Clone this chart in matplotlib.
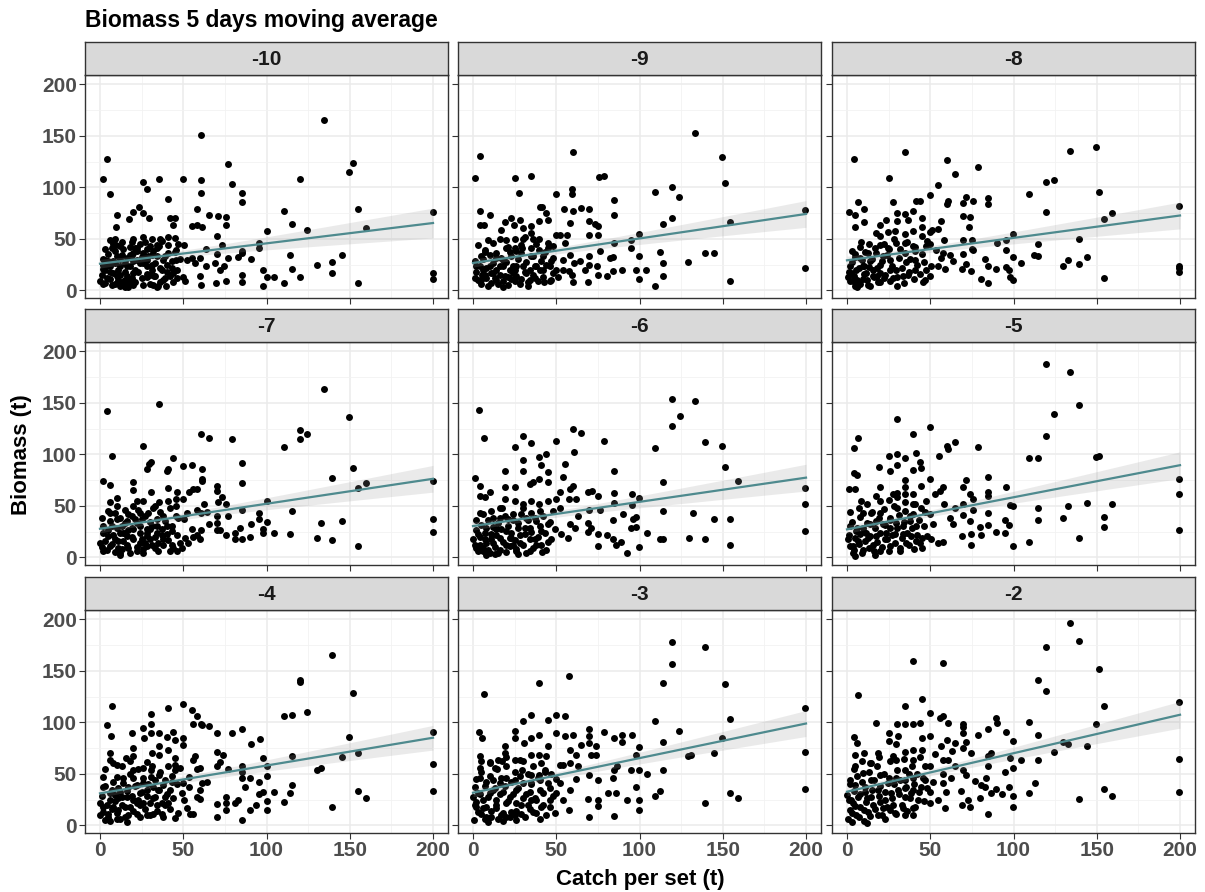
import numpy as np
import matplotlib
matplotlib.use("Agg")
import matplotlib.pyplot as plt
from matplotlib.ticker import MultipleLocator

plt.rcParams['font.family'] = ['Liberation Sans', 'DejaVu Sans']

# facet labels (days before set)
facets = ["-10", "-9", "-8", "-7", "-6", "-5", "-4", "-3", "-2"]

# (catch per set, biomass)
pts_m10 = [(134.4,165),(60.4,150.8),(4.4,127.6),(1.8,108.5),(5.8,93.3),(35.2,108.5),(50,108.5),(25.6,105.3),
    (28.2,98.8),(40.6,88.8),(60.4,106.6),(60.4,94.3),(77,123),(79,103.4),(85.2,94.3),(85.2,85.3),(120,108.5),
    (152.2,124),(149.8,115.3),(154.8,78.8),(159.8,60),(200,75.6),(200,17),(200,11.3),(110.4,76.6),(115.2,64.6),
    (124.6,58.1),(100,57.8),(95.4,45.5),(95.4,41),(90.6,30),(114,34.6),(115.2,20.3),(120,12.6),(110.4,6.8),
    (104.8,12.6),(100,12.6),(98,19.4),(98,3.9),(130.2,24.5),(139.6,27.8),(139.6,16.8),(145.2,34.6),(154.8,6.8),
    (85.2,38.4),(85.2,36.2),(82.8,32.3),(77,31.3),(85.2,14.9),(85.2,8.1),(75.6,9),(69.4,6.8),(75.6,63.3),
    (75.6,71),(73.4,43.6),(70,52.3),(70,35.5),(71,71.7),(65.6,73.3),(58.4,78.8),(55.2,62),(58,63.3),(61.4,61),
    (63.4,40),(50.4,44.3),(69.2,26.5),(72,19.4),(74.4,23.3),(63.6,23.3),(60,13.6),(60.4,4.8),(51.2,9.4),
    (49.6,12.6),(57,26.5),(55,31.3),(60,31.3),(52,29.7),(44,63.3),(42,70),(45.2,70),(40.6,51.7),(45.2,50.7),
    (36,49.7),(35.6,42.6),(41,36.2),(45.6,38.8),(45.6,29.7),(40,24.9),(43,21.6),(37,20),(42,13.6),(36,8.1),
    (39.6,4.5),(32.4,13.6),(31,20),(28,29.7),(26,36.2),(30,42.6),(31,49.7),(26,51.7),(20,49.7),(21,41),
    (23.6,80.7),(20,75.6),(25.6,75),(29.6,70),(17.4,69.1),(10.4,73.3),(9.8,61),(6,48.4),(9,49.7),(7,41),
    (3,29.7),(1.8,20.7),(0,9.4),(3,7.1),(6,11),(9,6.1),(12,3.9),(15,2.9),(17,7.1),(20,5.5),(6,23.3),(9,26.5),
    (12,23.3),(15,26.5),(18,23.3),(21,20),(10,32.9),(13,34.6),(16,31.3),(19,34.6),(22,29.7),(8,16.8),(12,15.2),
    (16,13.6),(20,16.8),(11,10.3),(14.4,8.7),(18,10.3),(25.6,5.5),(28,12.6),(32,5.5),(34,3.2),(28,23.3),
    (24,26.5),(33,26.5),(34,32.9),(38,29.7),(2,24.9),(5,28.1),(9.6,44.3),(19,46.5),(22,41),(34,41),(31,34.6),
    (44,16.8),(39,12),(46,11.6),
    (1,15),(2,30),(3,20),(4,12),(5,35),(6,18),(7,5),(8,28),(9,38),(10,14),(11,20),(12,30),(13,8),(14,40),
    (15,18),(16,24),(17,3),(18,34),(19,12),(20,28),(21,8),(22,38),(23,18),(24,45),(25,12),(26,26),(27,47),
    (28,16),(29,33),(30,6),(31,25),(32,38),(33,14),(34,44),(36,22),(37,48),(38,10),(39,33),(40,18),(41,44),
    (43,28),(44,8),(45,37),(46,20),(47,45),(48,30),(3,40),(8,45),(13,47),(18,42),(5,25),(10,7),(15,10),
    (20,36),(25,32),(30,15),(35,4),(2,6),(12,43),(28,40)]

pts_m9 = [(133.6,153.1),(4,130.8),(60,134),(149.4,129.8),(1,108.8),(25,108.8),(34.6,111.1),(75.4,109.8),
    (78.4,111.1),(151.4,104.3),(27.8,94.6),(49.6,93.3),(59.6,98.2),(59.6,93.7),(109.6,95.3),(119.4,100.1),
    (124,90.1),(84.4,87.5),(84.4,73.3),(199.6,77.8),(154.2,65.9),(119.4,70.1),(114.4,64.6),(99.6,54.9),
    (94.6,49.1),(94.6,41),(84.6,45.9),(76.4,38.4),(99.6,33.6),(112.4,37.1),(114.4,26.2),(129.4,27.1),
    (139.2,36.2),(144.6,36.2),(199.6,21.3),(154.2,9.4),(109.6,4.5),(114.4,13.6),(104,20),(97.6,19.4),
    (99.6,11.3),(89.2,20),(84,19.1),(80.4,13.6),(75,14.9),(84,32.3),(82,31.3),(68.8,8.1),(60,8.1),(59.6,14.9),
    (57.6,18.4),(69.6,32.9),(69.6,24.9),(74.6,23.3),(69.4,53.6),(75,53.6),(69.4,66.9),(73,64.3),(75,62),
    (64.6,79.8),(69.4,78.8),(60,76.9),(54.6,78.8),(58,65.2),(56.6,53.9),(55,45.9),(49.6,53.9),(52,53.9),
    (45,45.9),(40,80.7),(41.6,80.7),(43.6,74.9),(45,68.5),(39.6,66.9),(34.6,62),(34.6,55.6),(30,60.4),
    (28,67.8),(24.8,63.6),(23,70.1),(19.4,65.9),(16.6,58.1),(10,73.3),(4.4,76.6),(4,63.6),(6.4,63.6),(9,49.1),
    (7,39.4),(5,32.9),(20,49.1),(25,49.7),(30,49.7),(36,49.7),(39.6,49.7),(20,41),(25,41),(29.6,41),(35,41),
    (45,41),(39.6,39.4),(14,31.3),(18,29.7),(23,32.9),(29,36.2),(36,32.9),(42,32.9),(48,31.3),(54,29.7),
    (58,34.6),(60.4,26.5),(64,28.1),(2,23.3),(6,20),(10,23.3),(14,20),(18,23.3),(22,20),(26,23.3),(30,23.3),
    (34,20),(38,23.3),(42,20),(46,23.3),(50,20),(1,12),(4,8.7),(8,12),(11,7.1),(14,10.3),(18,8.7),(21,12.9),
    (25,8.7),(29,11),(33,7.8),(37,12),(42.6,7.8),(47,9.7),(51,12.9),(5.6,15.2),(12,16.8),(16,15.2),(24,16.8),
    (32,16.8),(48,16.8),(54,20),(67,20),
    (1,28),(2,18),(3,10),(4,24),(5,6),(6,30),(7,15),(8,22),(9,4),(10,34),(11,17),(12,26),(13,12),(14,36),
    (15,6),(16,24),(17,31),(19,14),(20,27),(21,5),(22,37),(23,11),(24,24),(26,14),(27,30),(28,6),(29,44),
    (31,18),(32,27),(33,4),(35,33),(36,15),(37,24),(38,45),(39,9),(41,28),(42,13),(43,37),(44,25),(46,9),
    (47,28),(48,43),(3,44),(7,37),(12,46),(16,50),(21,42),(26,38),(31,52),(6,12),(18,3),(25,20),(34,10),(40,20)]

pts_m8 = [(149.6,139.5),(134,135.3),(34.6,134.4),(4,127.9),(60,126.6),(78.6,119.8),(64.8,113),(25.2,108.9),
    (119.4,105.3),(124.4,106.6),(54.6,102.1),(151.6,95.3),(109.2,93.3),(49.6,92.1),(71.6,90.1),(75.6,86.6),
    (84.6,89.1),(84.6,84),(69.6,84.6),(60.6,86.6),(60,83.3),(41.2,86.9),(44,86.9),(27.6,85.6),(6.6,85.6),
    (10,79.1),(1.2,75.6),(4.6,73.3),(4.6,61),(10,65.9),(199.6,81.4),(159.2,74.6),(154.4,68.8),(119.4,75.9),
    (99.6,54.9),(95.2,49.1),(90,45.9),(114.8,44.6),(139.2,50.1),(144.2,32.6),(139.2,25.8),(132.8,29.1),
    (129.6,23.6),(112.6,34.6),(114.8,33.6),(104.4,26.8),(99.6,32.3),(95.2,38.8),(154.4,11.6),(199.6,23.9),
    (199.6,21.3),(199.6,17.8),(99.6,9.7),(97.6,12.9),(95.6,22.3),(97.2,19.4),(89.6,20.7),(84.6,23.3),
    (84.6,7.1),(82.6,30.4),(80.6,11.3),(74.6,18.4),(71.6,25.8),(69.2,20.7),(69.6,35.5),(74.8,40),(75.6,38.8),
    (69.6,49.1),(74.8,49.1),(73.2,61),(69.6,71.7),(73.6,70.7),(58,49.1),(56.6,66.9),(54.6,59.4),(51.2,58.1),
    (49.6,56.2),(49.6,45.2),(45,70.1),(45,61),(45,52.3),(39.6,76.6),(39.6,57.2),(39.6,42.6),(34.8,74.3),
    (36.6,67.8),(30,74.9),(30,66.9),(24.6,56.2),(29,57.2),(34.6,45.9),(29.6,45.9),(19.6,63.6),(23.2,68.5),
    (17.2,55.6),(8.6,47.2),(19.6,52.6),(19.6,44.3),(24.6,41),(34.6,36.2),(40.6,37.8),(47.6,42.6),(53.6,38.8),
    (57.6,36.2),(56.6,31.3),(61.6,34.6),(63.6,28.1),(58.6,20.7),(54.6,23.3),(50.6,23.9),(47.6,20),(49.6,13.6),
    (45.6,7.8),(40.6,20),(36.6,15.2),(33.6,13.6),(30,4.5),(27.6,12),(29.6,19.4),(35.6,27.1),(40.6,29.7),
    (25.6,29.7),(21.6,32.9),(17.6,36.2),(12.6,36.2),(4.6,35.5),(7.6,31.3),(13.6,28.1),(19.6,24.9),(1.6,23.3),
    (5.6,20),(9.6,23.3),(15.6,20),(19.6,16.8),(0.6,12.9),(3.6,8.7),(6.6,5.5),(9.6,11),(12.6,5.5),(15.6,13.6),
    (18.6,7.8),(22,11.6),(4.6,3.9),(2.6,16.8),(11.6,16.8),(25.6,20),
    (1,18),(2,9),(3,27),(4,14),(5,32),(6,10),(7,22),(8,6),(9,29),(10,16),(11,37),(12,10),(13,23),(14,4),
    (15,30),(16,13),(17,41),(18,22),(20,8),(21,28),(22,45),(23,15),(24,34),(26,9),(27,24),(28,50),(30,13),
    (31,31),(32,40),(33,22),(34,7),(36,47),(37,18),(38,30),(40,11),(41,42),(42,25),(44,16),(45,35),(46,27),
    (47,10),(48,48),(3,38),(8,42),(13,45),(6,3),(10,24),(18,14),(25,40),(35,55)]

pts_m7 = [(134.4,163.1),(4.4,141.9),(35.2,148.8),(149.8,136.4),(60.4,119.4),(65.4,116.2),(79,115.2),(120,124),
    (120,115.2),(124.6,119.4),(110.4,107.3),(25.6,108.3),(7,98.2),(30.4,92.7),(29.4,91),(44,96.2),(28.2,86.1),
    (41,86.1),(40,84.2),(50,88.4),(55,89.7),(61,85.8),(85.2,91.4),(85.2,72.4),(152.2,87.1),(200,73.7),
    (200,36.9),(200,24.5),(159.8,71.8),(154.8,67.2),(139.6,77),(145.2,35.6),(133,33.3),(130.2,18.9),
    (139.6,16.6),(154.8,11.1),(115.2,45),(114,22.2),(104.8,23.2),(100,54.8),(100,34.6),(98,27.1),(98,23.8),
    (95.4,43.4),(95.4,36.9),(90.6,32),(90,19.9),(85.2,45.7),(85.2,17.9),(84,28.7),(81,23.8),(81,17.9),
    (75.6,21.2),(77,40.1),(75.6,51.5),(73,58.1),(71,53.2),(70,69.5),(70,64.6),(70,40.1),(70,33),(70,26.1),
    (72,26.1),(65.4,32),(60.4,26.1),(60,17.3),(58,21.9),(56,19.6),(53,14),(51,18.6),(60.4,43.4),(62.4,51.5),
    (64,44.4),(58.4,46),(61,76),(61,74.4),(56,66.2),(58.4,66.2),(53.2,63.6),(50,56.4),(50.4,36.9),(46,63),
    (45.6,56.4),(45.6,49.9),(45.6,40.1),(46,5.9),(42,5.9),(41,66.9),(41,54.8),(35.6,53.8),(30.6,63),(33,49.9),
    (25.6,54.8),(20,73.4),(19.6,65.6),(20,49.9),(10.4,57.4),(6,53.2),(6,70.5),(1.6,73.7),(6,43.4),(9,43.4),
    (2,23.8),(0,14),(2,5.9),(5,20.6),(6,10.8),(9,17.3),(11,9.1),(12,4.2),(14,15.7),(15,23.8),(17,9.1),
    (19,19.9),(22,5.9),(24,14),(26,4.2),(28,10.8),(30,17.3),(33,9.1),(35,14),(38,17.3),(40,22.2),(43,12.4),
    (7,30.3),(10,36.9),(13,30.3),(16,35.2),(19,40.1),(22,33.6),(25,36.9),(28,27.1),(31,30.3),(34,23.8),
    (37,27.1),(40,30.3),(43,25.4),(24,43.4),(29,43.4),(34,36.9),(38,40.1),(12,23.8),(16,20.6),(20,27.1),
    (24,23.8),(28,20.6),(49,9.1),(55,27.1),(52,43.4),
    (1,10),(2,30),(3,16),(4,7),(5,26),(6,35),(7,13),(8,22),(9,5),(10,28),(11,16),(12,38),(13,8),(14,24),
    (15,33),(16,12),(17,42),(18,4),(19,28),(20,18),(21,37),(22,10),(23,46),(24,30),(25,18),(26,8),(27,40),
    (28,24),(30,34),(31,12),(32,48),(33,20),(34,30),(35,6),(36,44),(37,22),(38,12),(39,35),(41,17),(42,48),
    (43,30),(44,9),(46,22),(47,38),(48,14),(1,38),(5,45),(10,50),(15,46),(22,55),(17,26),(27,14),(30,27),(12,2)]

pts_m6 = [(119.4,154),(133.6,152),(124.2,137.4),(119.4,127.2),(3.6,142.9),(6.4,116.2),(29.8,117.5),
    (34.6,110.9),(25,107),(49.6,112.9),(60,125),(64.6,120.7),(78.4,112.9),(60.4,101.8),(109.6,106.4),
    (139.2,111.9),(149.4,108.3),(151.4,87.4),(159,73.7),(199.6,66.9),(199.6,52.2),(199.6,25.4),(154.2,36.9),
    (144.6,36.9),(132.4,43.4),(154.2,12.4),(139.2,17.9),(129.6,18.9),(114.4,17.9),(112.4,17.3),(104.4,23.2),
    (99.6,10.1),(92.6,4.2),(89,14.7),(86,11.7),(84,17.3),(80.4,21.5),(75,22.2),(75,11.4),(114.4,72.8),
    (114.4,44.7),(99.6,57.4),(95.4,61.3),(95.4,50.6),(97.6,39.5),(96,36.9),(95,28.7),(97.6,29.4),(90,42.4),
    (84,36.2),(84.6,62.6),(84.6,52.5),(84.6,84.2),(76,45.7),(75,59.7),(71.6,64.6),(69,63),(69.4,45.7),
    (63,40.1),(60,69.5),(58,66.2),(57.6,56.4),(62,56.4),(55,90.7),(54,78.3),(52,63),(52.4,48.3),(50,56.4),
    (45,82.5),(45,72.8),(43.6,100.5),(39.6,97.2),(41,89.1),(39.6,76),(36,72.8),(34,71.1),(29.8,94),
    (29.8,84.2),(25,67.9),(19,84.2),(19.4,67.9),(17.6,47.6),(4.4,69.5),(1,77),(4,59.7),(7,58.1),(10,63),
    (4.4,43.4),(19.4,56.4),(25,54.8),(30,51.5),(35,54.8),(39.6,51.5),(45,54.8),(40,45),(35,43.4),(30,48.3),
    (24,41.8),(12,38.5),(16,38.5),(21,36.9),(32,38.5),(38,35.2),(45,32),(49,27.1),(53,22.2),(57,18.9),
    (61,28.7),(58,32),(69,33.6),(69,24.8),(71,28.7),(0,17.3),(3,22.2),(4,12.4),(7,17.3),(9,7.5),(12,14),
    (15,4.2),(16,18.9),(20,12.4),(23,18.9),(26,5.9),(28,14),(31,22.2),(34,5.9),(37,17.3),(41.4,5.2),(45,15),
    (41,25.4),(34,28.7),(27,28.7),(20,25.4),(14,27.1),(8,28.7),(2,9.1),(6,5.9),(11,22.2),(24,12.4),(38,12.4),
    (1,12),(2,26),(3,6),(4,20),(5,31),(6,9),(7,24),(8,14),(9,36),(10,4),(11,18),(12,29),(13,10),(14,22),
    (15,33),(16,7),(17,27),(18,15),(19,40),(20,5),(21,30),(22,11),(23,24),(24,36),(25,17),(26,8),(27,33),
    (28,22),(29,42),(30,12),(31,28),(32,4),(33,36),(34,18),(35,25),(36,9),(37,38),(39,20),(40,30),(41,12),
    (42,40),(43,24),(44,7),(46,34),(47,18),(48,45),(2,36),(6,42),(11,45),(16,48),(8,2),(13,3),(22,19),(27,3)]

pts_m5 = [(119.4,187.6),(134,179.8),(139.2,147.5),(124.4,138.7),(119.4,117.5),(30,134.1),(49.8,126.3),
    (39.6,119.4),(6.6,116.2),(4,106.4),(64.8,111.9),(60,108.3),(60.6,104.7),(78.6,107.3),(55.2,98.2),
    (41.6,101.5),(34.8,95.9),(30,100.5),(25,98.2),(30,89.1),(25.6,83.8),(19,88.1),(44.6,86.5),(43.6,92.3),
    (39.6,85.2),(109.2,96.2),(114.8,96.2),(149.6,97.2),(151.6,98.2),(199.6,75.7),(199.6,61.3),(199.6,26.4),
    (159.2,51.5),(154.4,39.2),(154.4,29.4),(144.2,52.5),(132.8,49.3),(129.6,38.2),(139.2,18.9),(114.8,48.3),
    (114.8,35.9),(109.2,14.7),(99.6,11.1),(99.6,49.6),(97.6,50.6),(95.6,68.2),(95,35.9),(97.2,31.3),(95,23.5),
    (89.6,24.5),(84.6,77.7),(84.6,63.6),(84.6,59.7),(84.6,43.4),(84.6,31.3),(80,29.4),(80.6,21.5),(74.6,22.2),
    (74.6,12.4),(75.6,45.7),(73.6,61.3),(75.6,56.4),(73.6,35.2),(71.6,75),(69.6,68.5),(69.6,52.2),(69.6,41.1),
    (69.2,20.6),(64.8,48.3),(63.6,32),(61.6,38.5),(58,51.5),(57.6,67.9),(55.6,64.6),(52.6,61.3),(49.6,76),
    (49.6,41.8),(47.6,54.8),(51.6,32),(57.6,15),(54.6,14),(50.6,17.3),(45.2,9.1),(45.2,18.9),(44.6,69.5),
    (44.6,48.3),(39.6,61.3),(39.6,51.5),(39.6,41.8),(34.8,67.9),(34.8,61.3),(34.8,53.2),(34.8,75),(30,58.1),
    (30,48.3),(27.6,61.3),(19.6,67.9),(17.6,59.7),(19.6,54.8),(25.6,38.5),(19.6,43.4),(14.6,43.4),(9.6,43.4),
    (8.6,54.8),(1.2,65.9),(4.6,65.9),(4.2,81.6),(6,80.3),(1.6,30.3),(5.6,25.4),(9.6,28.7),(13.6,32),
    (17.6,35.2),(21.6,32),(25.6,28.7),(29.6,33.6),(33.6,30.3),(37.6,35.2),(41.6,30.3),(0.6,17.3),(3.6,10.8),
    (3.6,4.2),(6.6,15.7),(9.6,7.5),(12.6,18.9),(15.6,12.4),(19.6,5.9),(22.6,17.3),(25.6,10.8),(28.6,22.2),
    (31.6,9.1),(35.6,14),(38.6,20.6),(41.6,15.7),(33.6,22.2),(17.6,20.6),(7.6,22.2),(11.6,23.8),(23.6,23.8),
    (1,22),(2,11),(3,34),(4,7),(5,19),(6,28),(7,13),(8,39),(9,4),(10,25),(11,16),(12,33),(13,9),(14,21),
    (15,44),(16,6),(17,28),(18,15),(19,38),(20,24),(21,10),(22,47),(23,31),(24,18),(25,6),(26,36),(27,22),
    (28,50),(29,14),(30,28),(31,41),(32,6),(33,19),(34,34),(35,45),(36,24),(37,12),(38,40),(39,28),(40,8),
    (41,52),(42,22),(43,36),(44,14),(46,30),(47,44),(48,21),(2,44),(7,48),(12,52),(5,1),(17,2),(25,56),(30,62)]

pts_m4 = [(139.6,165.4),(120,141),(120,138.7),(152.2,128.2),(124.6,110.3),(115.2,107),(110.4,106),(7,116.2),
    (40.6,113.9),(50,117.5),(55,111.6),(58.4,106),(55.6,98.2),(60.4,98.2),(61.4,97.2),(65.4,96.2),(30.4,108.3),
    (30.4,98.2),(4.4,97.2),(6.6,87.1),(25.6,94),(19.4,89.4),(26.4,84.5),(30.4,89.4),(35.2,89.4),(44,90.7),
    (45.2,83.2),(40,85.8),(50,84.8),(50,78.3),(70,89.4),(79,89.4),(85.2,93.6),(90.6,79.3),(96,83.5),
    (149.8,85.8),(200,90.4),(200,59.1),(200,33.3),(154.8,70.1),(145.2,65.9),(130.2,53.8),(133,55.8),
    (139.6,17.6),(154.8,33.3),(159.8,26.8),(115.2,66.9),(115.2,38.8),(114,31),(110.4,22.2),(104.8,32),
    (100,57.7),(100,48),(100,23.5),(100,14.4),(98,64.9),(98,32),(95.4,30.3),(95.4,42.4),(93.4,19.2),(90,45.7),
    (90,14.7),(87,37.5),(85.2,57.1),(85.2,52.2),(85.2,45.7),(85.2,5.5),(82.6,24.5),(81,21.2),(77,54.5),
    (75.6,27.7),(75.6,21.2),(75.6,15.3),(74,68.2),(72,61),(70,70.8),(70,57.1),(70,20.2),(70,8.2),(64,42.4),
    (61.4,40.8),(60,55.5),(58,54.5),(57,66.9),(56,63.6),(60,34.3),(60,25.1),(58,27.7),(55.6,11.4),(54,11.4),
    (52,16.3),(50.4,24.5),(50,40.8),(53.6,37.5),(53.6,46.7),(49,31),(45.2,65.3),(45.2,58.7),(45.2,53.8),
    (45.2,7.5),(43,42.4),(42,34.3),(41,73.4),(41,21.2),(38,39.2),(35.6,76.7),(35.6,68.5),(35.6,48.9),
    (35.6,34.3),(33,27.7),(31,70.1),(30.4,47.3),(30.4,53.8),(28,61),(26,55.5),(26,40.8),(26,21.2),(20,75),
    (20,66.9),(20,53.8),(20,45.7),(15.6,65.3),(10.4,58.7),(10.4,47.3),(6,70.1),(6,63.6),(1.6,47.3),(2,37.5),
    (0,21.2),(0,9.8),(2,17.3),(3,5.5),(5,11.4),(6,24.5),(8,17.9),(10,6.5),(11,26.1),(13,19.6),(15,8.2),
    (16,27.7),(18,17.9),(20,24.5),(22,11.4),(24,30.9),(28,9.8),(30,21.2),(32,11.4),(34,19.6),(37,11.4),
    (39,19.6),(7,34.3),(12,32.6),(17,37.5),(22,39.2),(28,34.3),(32,37.5),(39,27.7),(14,40.8),(9,29.4),
    (23,24.5),(11,14.7),
    (1,28),(2,13),(3,38),(4,20),(5,8),(6,31),(7,16),(8,42),(9,24),(10,12),(11,36),(12,6),(13,27),(14,46),
    (15,18),(16,33),(17,10),(18,50),(19,28),(20,14),(21,38),(22,22),(23,55),(24,8),(25,32),(26,46),(27,16),
    (28,28),(29,40),(30,10),(31,58),(32,26),(33,44),(34,14),(35,34),(36,52),(37,22),(38,8),(39,44),(40,30),
    (41,58),(42,16),(43,48),(44,26),(46,40),(47,12),(48,56),(3,55),(8,60),(13,58),(18,62),(6,4),(16,3),(24,20)]

pts_m3 = [(119.4,177.8),(139.4,172.9),(119.4,156.3),(114.4,138.3),(151.4,137.4),(57.6,145.2),(39.4,138.3),
    (6.4,127.2),(199.6,113.9),(154.2,102.8),(109.6,101.5),(124,91.4),(114.4,81.2),(149.6,84.8),(144.6,70.1),
    (131.2,67.9),(129.4,66.9),(199.6,71.5),(199.6,34.9),(154.2,31.3),(159,26.8),(139.4,21.2),(114.4,53.5),
    (112.4,33.3),(109.6,28.7),(104.4,50.2),(99.6,75.7),(99.6,53.5),(99.6,24.5),(99.6,14.7),(97.6,68.5),
    (97.6,36.9),(94.6,53.5),(95.4,87.4),(92.4,24.5),(89.6,88.1),(89.6,81.2),(86.4,57.1),(84.4,53.8),
    (84.4,84.8),(84.4,8.8),(84,45.7),(86,31),(81,31),(78.4,90.7),(75,44),(75,24.5),(75,18.6),(74,68.5),
    (73.6,76.7),(71,68.5),(69.4,93.6),(69.4,86.5),(69.4,79.9),(69.4,48.9),(69.4,8.2),(69,25.1),(65,78.3),
    (63,57.1),(62,68.5),(62,44.7),(60,88.1),(58,73.4),(58,60.4),(57.6,14.7),(55,106),(55,87.1),(54,58.7),
    (49.6,107),(49.6,89.7),(52,58.7),(50,44.7),(49,12.1),(45,101.8),(45,76.7),(44,66.9),(43,53.8),(39.6,87.4),
    (39.6,68.5),(39.6,48.9),(40,6.5),(34.6,106.7),(34.6,84.8),(34.6,68.5),(34.6,48.9),(29.8,101.1),
    (30.4,79.9),(28,63.6),(29.6,53.8),(25,91.4),(25.4,84.8),(25,63.6),(19,76.7),(19,70.1),(17.6,62),
    (14.4,54.5),(10,61),(4.4,66.9),(3.6,90.4),(5.6,84.8),(4.4,55.5),(4,45.7),(8,42.4),(12,44),(16,40.8),
    (20,45.7),(25,44),(30,40.8),(35,40.8),(40,44),(45,40.8),(52,40.8),(1,37.5),(0,27.7),(3,31.6),(6,24.5),
    (10,31),(14,24.5),(18,32.6),(22,27.7),(26,34.3),(30,26.1),(34,32.6),(38,24.5),(42,31),(46,24.5),(50,31),
    (54,24.5),(58,34.3),(0.4,5.5),(2,17.9),(5,11.4),(8,17.9),(11,8.2),(14,16.3),(17,9.8),(20,21.2),(23,13),
    (26,21.2),(29,11.4),(33,19.6),(36,13),(41,17.3),(46,17.9),(2,22.8),(13,35.9),(35,24.5),(20,8.2),(25,9.8),
    (7,6.5),
    (1,20),(2,45),(3,13),(4,30),(5,52),(6,17),(7,38),(8,8),(9,27),(10,48),(11,14),(12,34),(13,56),(14,20),
    (15,6),(16,30),(17,46),(18,12),(19,38),(20,58),(21,24),(22,8),(23,42),(24,30),(25,52),(26,14),(27,36),
    (28,48),(29,20),(30,62),(31,8),(32,30),(33,50),(34,16),(35,40),(36,58),(37,26),(38,12),(39,46),(40,34),
    (41,60),(42,20),(43,52),(44,10),(46,36),(47,50),(48,28),(5,62),(10,60),(15,63),(20,66),(9,3),(18,4),(26,5)]

pts_m2 = [(134,196.7),(139.2,178.8),(119.4,173.2),(151.6,151.7),(39.6,159.5),(57.8,157.6),(114.8,140.9),
    (119.4,130.8),(45,122.7),(6.6,126.3),(34.8,116.2),(154.4,116.2),(199.6,119.4),(149.6,98.2),(109.2,100.2),
    (89.6,103.8),(90,99.5),(95.6,90.4),(84.6,93.6),(78.6,87.4),(114.8,87.4),(99.6,81.6),(130,80.6),(132.8,79),
    (144.2,76.7),(124.4,71.5),(114.8,63.3),(104.6,63.6),(97.6,65.3),(99.6,55.5),(94.8,52.2),(84.6,66.9),
    (84.6,57.1),(86.6,70.1),(83.6,45.7),(80.6,39.2),(82.6,37.5),(86.6,31),(84.6,10.8),(80,26.4),(89.6,35.2),
    (92.8,30),(97.2,36.9),(99.6,28.7),(99.6,17.6),(109.2,31.3),(112.8,41.4),(154.4,35.6),(159.2,28.7),
    (139.2,25.8),(199.6,64.6),(199.6,32.3),(69.6,98.2),(69.6,95.6),(69.6,89.1),(69.6,75),(71.6,80.6),
    (74.6,70.1),(69.6,53.8),(71.6,48.9),(76.6,43.4),(68.6,33.6),(69.2,19.6),(72.6,24.5),(73.6,17.3),
    (64.8,79.9),(62.8,71.8),(64.8,57.1),(60.8,99.5),(60,82.5),(57.6,106),(55.6,104.4),(56.6,77.3),(57.6,63.6),
    (60.8,63.6),(57.6,49.9),(62.6,45.7),(57.6,40.8),(54.6,24.5),(58.6,16.3),(59.6,32.6),(49.8,109.3),
    (49.8,86.5),(52.6,69.5),(49.6,57.1),(51.6,42.4),(49.6,32.6),(49.6,21.2),(43.6,99.5),(45,84.8),(45.2,73.4),
    (46.6,57.1),(45.6,45.7),(44.6,37.5),(39.6,98.2),(34.8,98.2),(30,98.2),(30.6,86.5),(29.2,79.3),(25.2,89.7),
    (25,81.6),(17.6,99.5),(39.6,73.4),(39.6,63.6),(34.8,70.8),(34.8,53.8),(29.2,63.6),(27.6,66.9),(18.6,70.1),
    (14.6,60.4),(10,70.1),(4.6,68.5),(4,85.5),(6,79.9),(4.6,57.1),(1.6,44),(4.6,39.2),(9.6,50.6),(14.6,44),
    (19.6,48.9),(24.6,40.8),(29.6,45.7),(34.6,44),(39.6,45.7),(35.6,37.5),(39.6,34.3),(0,29.4),(2.6,24.5),
    (6.6,27.7),(10.6,32.6),(14.6,27.7),(18.6,34.3),(22.6,24.5),(26.6,31),(30.6,34.3),(34.6,27.7),(38.6,31),
    (42.6,24.5),(0.4,6.5),(1.6,15.3),(5.6,9.8),(7.6,17.9),(10.2,4.2),(12.6,13),(15.6,19.6),(18.6,9.8),
    (21.6,16.3),(25.6,14.7),(29.6,11.4),(33.6,16.3),(35,9.8),(39.6,10.4),(39.6,16.3),(3.6,21.2),(11.6,22.8),
    (19.6,22.8),(27.6,19.6),
    (1,25),(2,40),(3,12),(4,33),(5,19),(6,48),(7,8),(8,30),(9,42),(10,15),(11,37),(12,26),(13,52),(14,9),
    (15,34),(16,44),(17,16),(18,58),(19,28),(20,38),(21,10),(22,50),(23,32),(24,18),(25,46),(26,62),(27,26),
    (28,40),(29,12),(30,54),(31,30),(32,44),(33,20),(34,64),(35,36),(36,14),(37,50),(38,26),(39,58),(40,40),
    (41,18),(42,50),(43,32),(44,66),(46,24),(47,44),(48,36),(4,55),(9,62),(14,60),(19,66),(3,3),(12,2),(23,6)]

panel_points = [pts_m10, pts_m9, pts_m8, pts_m7, pts_m6, pts_m5, pts_m4, pts_m3, pts_m2]

# linear fit: biomass at catch = 0 and at catch = 200
fit_at_0 = [25.8, 26.5, 29.1, 27.7, 30.3, 27.1, 31.0, 31.6, 32.6]
fit_at_200 = [65.3, 74.1, 72.6, 76.2, 77.3, 89.4, 85.0, 98.8, 107.3]
# half width of the 95% band at catch = 200
band_at_200 = [14.5, 13.0, 13.0, 13.0, 13.0, 13.0, 12.0, 12.6, 13.0]

W, H = 1205, 892
fig = plt.figure(figsize=(W / 100, H / 100), dpi=100)

col_x = [85, 458, 832]
row_y = [75, 342, 610]
pw, ph, sh = 363, 223, 33

grey_txt = "#4D4D4D"
frame = "#333333"
xs = np.linspace(0, 200, 101)

for i, lab in enumerate(facets):
    r, c = divmod(i, 3)
    x0, y0 = col_x[c], row_y[r]
    ax = fig.add_axes([x0 / W, 1 - (y0 + ph) / H, pw / W, ph / H])
    ax.set_xlim(-9, 209)
    ax.set_ylim(-7.5, 209)
    ax.xaxis.set_major_locator(MultipleLocator(50))
    ax.xaxis.set_minor_locator(MultipleLocator(25))
    ax.yaxis.set_major_locator(MultipleLocator(50))
    ax.yaxis.set_minor_locator(MultipleLocator(25))
    ax.grid(which="major", color="#EBEBEB", lw=1.1, zorder=0)
    ax.grid(which="minor", color="#F2F2F2", lw=0.6, zorder=0)
    ax.set_axisbelow(True)
    for s in ax.spines.values():
        s.set_color(frame)
        s.set_linewidth(1.0)
    ax.tick_params(which="minor", length=0)
    ax.tick_params(which="major", length=4, color=frame, width=0.8,
                   labelsize=15, labelcolor=grey_txt, pad=2)
    for t in ax.get_xticklabels() + ax.get_yticklabels():
        t.set_fontweight("bold")
    if c != 0:
        ax.tick_params(axis="y", labelleft=False)
    if r != 2:
        ax.tick_params(axis="x", labelbottom=False)

    pts = np.array(panel_points[i])
    ax.scatter(pts[:, 0], pts[:, 1], s=25, c="black", lw=0, zorder=3)

    a, b = fit_at_0[i], fit_at_200[i]
    yfit = a + (b - a) * xs / 200
    xm, hm = 35.0, 3.0
    k = (band_at_200[i] ** 2 - hm ** 2) / (200 - xm) ** 2
    hw = np.sqrt(hm ** 2 + k * (xs - xm) ** 2)
    ax.fill_between(xs, yfit - hw, yfit + hw, color="#999999", alpha=0.2, lw=0, zorder=4)
    ax.plot(xs, yfit, color="#4E8A8E", lw=1.6, zorder=5)

    sax = fig.add_axes([x0 / W, 1 - y0 / H, pw / W, sh / H])
    sax.set_facecolor("#D9D9D9")
    sax.set_xticks([])
    sax.set_yticks([])
    for s in sax.spines.values():
        s.set_color(frame)
        s.set_linewidth(1.0)
    sax.text(0.5, 0.48, lab, ha="center", va="center", fontsize=15,
             fontweight="bold", color="#1A1A1A", transform=sax.transAxes)

fig.text(85 / W, 1 - 21 / H, "Biomass 5 days moving average", ha="left", va="center",
         fontsize=16.5, fontweight="bold", color="black")
fig.text(640 / W, 1 - 879 / H, "Catch per set (t)", ha="center", va="center",
         fontsize=16, fontweight="bold", color="black")
fig.text(22 / W, 1 - 455 / H, "Biomass (t)", ha="center", va="center", rotation=90,
         fontsize=16, fontweight="bold", color="black")

fig.savefig("out.png", dpi=100)
